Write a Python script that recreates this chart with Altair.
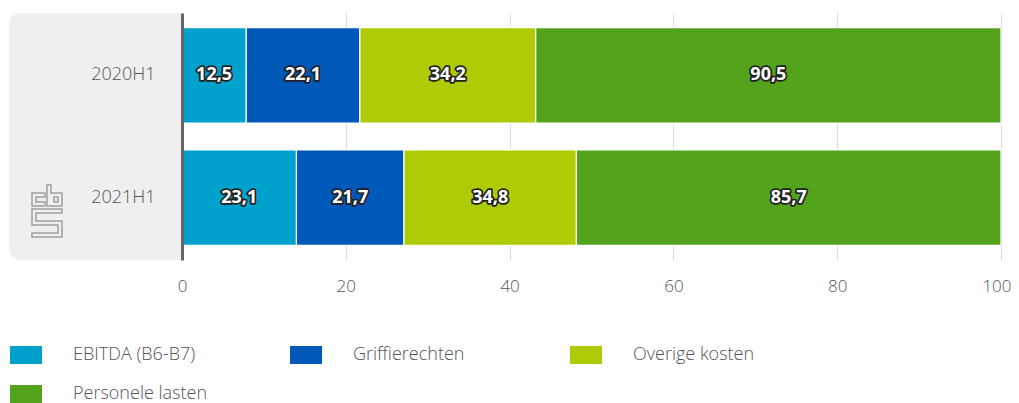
import altair as alt
import pandas as pd

periods = ["2020H1", "2021H1"]
categories = ["EBITDA (B6-B7)", "Griffierechten", "Overige kosten", "Personele lasten"]
colors = ["#00a1cd", "#0058b8", "#afcb05", "#53a31d"]
values_2020 = [12.5, 22.1, 34.2, 90.5]
values_2021 = [23.1, 21.7, 34.8, 85.7]
x_ticks = [0, 20, 40, 60, 80, 100]

rows = []
for p, vals in zip(periods, [values_2020, values_2021]):
    for i, (c, v) in enumerate(zip(categories, vals)):
        rows.append({"period": p, "category": c, "value": v, "order": i})
df = pd.DataFrame(rows)

FONT = "Open Sans"

base = alt.Chart(df).transform_stack(
    stack="value", groupby=["period"], as_=["v0", "v1"], offset="normalize",
    sort=[alt.SortField("order", order="ascending")]
).transform_calculate(
    x0="datum.v0*100", x1="datum.v1*100", xm="(datum.v0+datum.v1)*50",
    label="replace(format(datum.value, '.1f'), '.', ',')"
)

yenc = alt.Y("period:N", sort=periods, title=None,
             scale=alt.Scale(paddingInner=0.22, paddingOuter=0.12),
             axis=alt.Axis(domainColor="#666666", domainWidth=3, ticks=False,
                           labelPadding=27, labelFontSize=18, labelColor="#555555",
                           labelFont=FONT, labelFontWeight=300, zindex=1))

bg = alt.Chart(pd.DataFrame({"a": [0]})).mark_rect(
    color="#efefef", cornerRadiusTopLeft=12, cornerRadiusBottomLeft=12
).encode(x=alt.value(-173), x2=alt.value(0), y=alt.value(0), y2=alt.value(247))

logo_path = ("M-0.077,-0.692H-0.577V-0.192H-0.077V-0.346H-0.423V-0.538H-0.077Z"
             "M0,-1H0.154V-0.692H0.577V-0.192H0Z"
             "M0.269,-0.538H0.423V-0.346H0.269Z"
             "M-0.577,-0.077H0.577V0.077H-0.423V0.385H0.577V1H-0.577V0.846H0.423V0.538H-0.577Z")
logo = alt.Chart(pd.DataFrame({"a": [0]})).mark_point(
    shape=logo_path, filled=False, stroke="#a0a0a0", strokeWidth=1.5, size=2704, opacity=1
).encode(x=alt.value(-135), y=alt.value(198))

bars = base.mark_bar(stroke="white", strokeWidth=1.2).encode(
    x=alt.X("x0:Q", title=None, scale=alt.Scale(domain=[0, 100], nice=False),
            axis=alt.Axis(values=x_ticks, domain=False, ticks=False, gridColor="#dddddd",
                          labelPadding=18, labelFontSize=17, labelColor="#555555",
                          labelFont=FONT, labelFontWeight=300, labelFlush=False,
                          labelAlign={"condition": {"test": "datum.value == 100", "value": "right"},
                                      "value": "center"},
                          labelOffset={"condition": {"test": "datum.value == 100", "value": 10},
                                       "value": 0})),
    x2="x1:Q",
    y=yenc,
    color=alt.Color("category:N", sort=categories,
                    scale=alt.Scale(domain=categories, range=colors),
                    legend=alt.Legend(
                        title=None, orient="none", legendX=-172, legendY=326,
                        direction="horizontal", columns=3, gridAlign="all",
                        columnPadding=82, rowPadding=14,
                        symbolType="M-1,-0.5625H1V0.5625H-1Z", symbolSize=1024,
                        symbolStrokeWidth=0, symbolOpacity=1, labelOffset=31,
                        labelFontSize=18, labelColor="#555555", labelFont=FONT,
                        labelFontWeight=300, labelLimit=300)),
)

halo = base.mark_text(font="Noto Sans", fontWeight="bold", fontSize=18,
                      stroke="#222222", strokeWidth=3.5, strokeJoin="round",
                      fill="#222222").encode(
    x="xm:Q", y=alt.Y("period:N", sort=periods), text="label:N")
txt = base.mark_text(font="Noto Sans", fontWeight="bold", fontSize=18,
                     fill="white").encode(
    x="xm:Q", y=alt.Y("period:N", sort=periods), text="label:N")

chart = alt.layer(bg, logo, bars, halo, txt).properties(
    width=819, height=247,
    autosize=alt.AutoSizeParams(type="none"),
    padding={"left": 174, "top": 5, "right": 10, "bottom": 143},
).configure_view(stroke=None)

chart.save("out.html", embed_options={"renderer": "svg", "actions": False})
